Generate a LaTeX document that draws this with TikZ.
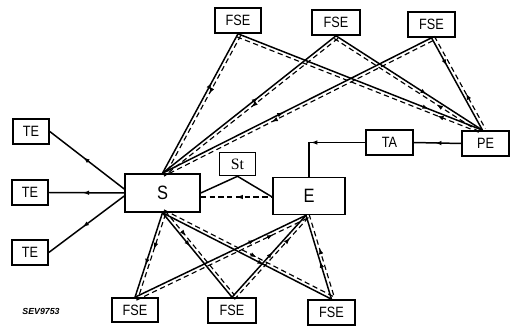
\documentclass[tikz,border=0pt]{standalone}
\usepackage{fontspec}
\setmainfont{Liberation Sans}
\newfontfamily\labfont[FakeStretch=0.85]{Liberation Sans}
\newfontfamily\serfont{Liberation Serif}
\usetikzlibrary{calc,arrows.meta,decorations.markings}
\tikzset{
  box/.style={draw, line width=0.9pt, inner sep=0pt, font=\labfont\fontsize{8.5}{9}\selectfont},
  bigbox/.style={draw, line width=0.9pt, inner sep=0pt, font=\labfont\fontsize{11}{12}\selectfont},
  conn/.style={line width=0.85pt},
  dsh/.style={line width=0.65pt, dash pattern=on 3pt off 2pt},
  arf/.style={postaction={decorate}, decoration={markings, mark=at position #1 with {\arrow{Latex[length=3.6pt,width=2.6pt]}}}},
  arb/.style={postaction={decorate}, decoration={markings, mark=at position #1 with {\arrowreversed{Latex[length=3.6pt,width=2.6pt]}}}},
}
\newcommand\pairP[4]{%
  \draw[conn,#3] (#1) -- (#2);
  \draw[dsh,#4] ($(#1)!0.065cm!90:(#2)$) -- ($(#2)!0.065cm!-90:(#1)$);}
\newcommand\pairM[4]{%
  \draw[conn,#3] (#1) -- (#2);
  \draw[dsh,#4] ($(#1)!0.065cm!-90:(#2)$) -- ($(#2)!0.065cm!90:(#1)$);}
\begin{document}
\begin{tikzpicture}[x=0.02cm, y=-0.02cm]
\useasboundingbox (0,0) rectangle (510,327);
% top FSE
\node[box, minimum width=0.92cm, minimum height=0.5cm] (f1) at (238,20.5) {FSE};
\node[box, minimum width=0.96cm, minimum height=0.5cm] (f2) at (336,22.5) {FSE};
\node[box, minimum width=0.94cm, minimum height=0.5cm] (f3) at (431.5,24.5) {FSE};
% right
\node[box, minimum width=0.94cm, minimum height=0.5cm] (PE) at (485.5,143.5) {PE};
\node[box, minimum width=0.94cm, minimum height=0.5cm] (TA) at (389.5,142.5) {TA};
% left TE
\node[box, minimum width=0.72cm, minimum height=0.5cm] (t1) at (31,131.5) {TE};
\node[box, minimum width=0.72cm, minimum height=0.5cm] (t2) at (30,192.5) {TE};
\node[box, minimum width=0.72cm, minimum height=0.5cm] (t3) at (30,252.5) {TE};
% centre
\node[bigbox, minimum width=1.5cm, minimum height=0.76cm] (S) at (162.5,193) {S};
\node[box, minimum width=0.72cm, minimum height=0.46cm, font=\serfont\fontsize{9}{10}\selectfont] (St) at (237.5,164) {St};
\node[bigbox, minimum width=1.44cm, minimum height=0.74cm] (E) at (309,196) {E};
% bottom FSE
\node[box, minimum width=0.92cm, minimum height=0.48cm] (b1) at (135,310) {FSE};
\node[box, minimum width=0.96cm, minimum height=0.5cm] (b2) at (232,310.5) {FSE};
\node[box, minimum width=0.94cm, minimum height=0.5cm] (b3) at (331.5,312.5) {FSE};
\node[font=\bfseries\itshape\fontsize{5}{6}\selectfont, inner sep=0pt] (code) at (41,311) {SEV9753};

% attachment points
\coordinate (Sn) at (S.north);
\coordinate (Ss) at (S.south);
\coordinate (Es) at ($(E.south)+(-3,0)$);
\coordinate (PEn) at ($(PE.north)+(-3,0)$);

% TE lines
\draw[conn, arb=0.45] (t1.east) -- ($(S.west)+(0,-4)$);
\draw[conn, arb=0.45] (t2.east) -- (S.west);
\draw[conn, arb=0.45] (t3.east) -- ($(S.west)+(0,3)$);

% S - St - E
\draw[conn] (S.east) -- (St.south) -- ($(E.west)+(0,1)$);
\draw[dsh, arb=0.5] (S.east |- E.west) ++(0,1) -- ($(E.west)+(0,1)$);

% PE - TA - E
\draw[conn, arf=0.55] (PE.west) -- (TA.east);
\draw[conn, arf=0.6] (TA.west) -- (TA.west -| E.north) -- (E.north);

% top fans to S
\pairP{f1.south}{Sn}{arb=0.35}{arf=0.42}
\pairP{f2.south}{Sn}{arb=0.45}{arf=0.5}
\pairP{f3.south}{Sn}{arb=0.55}{arf=0.6}
% top fans to PE
\pairM{f1.south}{PEn}{arf=0.78}{arb=0.82}
\pairM{f2.south}{PEn}{arf=0.62}{arb=0.7}
\pairP{f3.south}{PEn}{arf=0.3}{arb=0.62}

% bottom from S
\pairP{Ss}{b1.north}{arf=0.62}{arf=0.42}
\pairP{Ss}{b2.north}{arf=0.4}{arf=0.3}
\pairP{Ss}{b3.north}{arf=0.6}{arf=0.55}
% bottom from E
\pairP{Es}{b1.north}{arb=0.3}{arb=0.2}
\pairP{Es}{b2.north}{arb=0.45}{arb=0.25}
\pairP{Es}{b3.north}{arb=0.55}{arb=0.4}
\end{tikzpicture}
\end{document}
